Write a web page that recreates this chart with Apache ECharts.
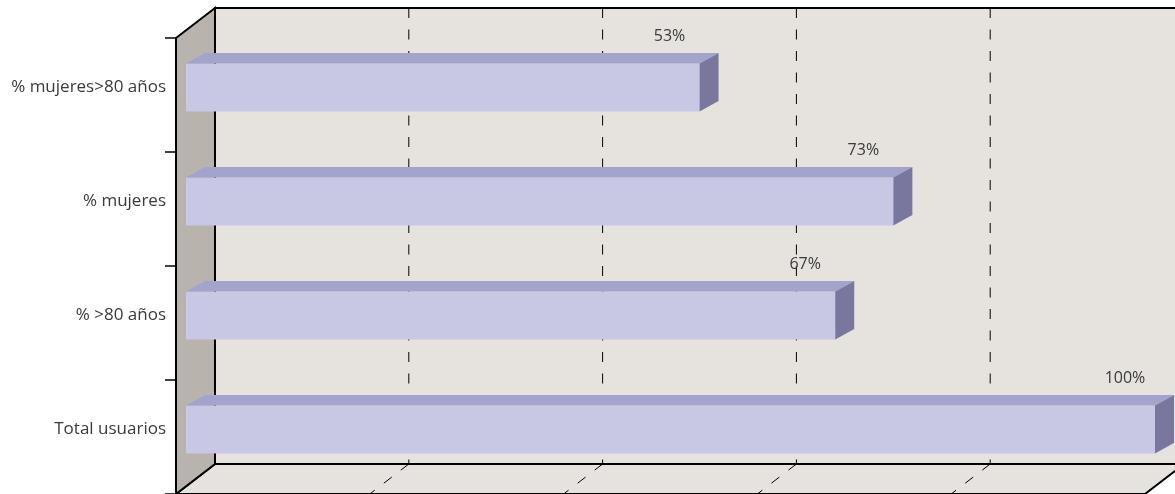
<!DOCTYPE html>
<html>
<head>
<meta charset="utf-8">
<script src="https://cdn.jsdelivr.net/npm/echarts@6/dist/echarts.min.js"></script>
<style>
html,body{margin:0;padding:0;background:#ffffff;}
#chart{width:1175px;height:494px;}
</style>
</head>
<body>
<div id="chart"></div>
<script>
// ---- data ----
const categories = ['% mujeres>80 años', '% mujeres', '% >80 años', 'Total usuarios'];
const values = [53, 73, 67, 100];
const valueLabels = ['53%', '73%', '67%', '100%'];
const gridValues = [20, 40, 60, 80];

// ---- 3D projection helpers (pixel offsets from the bar front plane) ----
const FRONT = [-10, 7.5];   // front edge of the walls/floor
const BACK = [29, -22.5];   // back wall plane
const BAR_DEPTH = [19, -10.5];
const FONT = '"Open Sans", Lato, sans-serif';

const chart = echarts.init(document.getElementById('chart'), null, {renderer: 'canvas'});

function wallsRender(params, api) {
  const n = categories.length;
  const c0 = api.coord([0, 0]);
  const band = api.size([0, 1])[1];
  const yTop = c0[1] - band / 2;
  const yBot = api.coord([0, n - 1])[1] + band / 2;
  const x0 = c0[0];
  const x100 = api.coord([100, 0])[0];
  const P = (x, y, off) => [x + off[0], y + off[1]];
  const children = [];
  const bTL = P(x0, yTop, BACK), bTR = P(x100, yTop, BACK), bBR = P(x100, yBot, BACK), bBL = P(x0, yBot, BACK);
  const fTL = P(x0, yTop, FRONT), fBL = P(x0, yBot, FRONT), fBR = P(x100, yBot, FRONT);
  // back wall
  children.push({type: 'polygon', shape: {points: [bTL, bTR, bBR, bBL]},
    style: {fill: '#E6E3DF', stroke: '#000', lineWidth: 2}});
  // floor
  children.push({type: 'polygon', shape: {points: [bBL, bBR, fBR, fBL]},
    style: {fill: '#E6E3DF', stroke: '#000', lineWidth: 2}});
  // left wall
  children.push({type: 'polygon', shape: {points: [fTL, bTL, bBL, fBL]},
    style: {fill: '#B8B3AC', stroke: '#000', lineWidth: 2}});
  // gridlines on back wall and floor
  gridValues.forEach(v => {
    const x = api.coord([v, 0])[0];
    const t = P(x, yTop, BACK), b = P(x, yBot, BACK), f = P(x, yBot, FRONT);
    children.push({type: 'line', shape: {x1: t[0], y1: t[1], x2: b[0], y2: b[1]},
      style: {stroke: '#000', lineWidth: 1, lineDash: [10, 11.5]}});
    children.push({type: 'line', shape: {x1: b[0], y1: b[1], x2: f[0], y2: f[1]},
      style: {stroke: '#000', lineWidth: 1, lineDash: [10, 11.5]}});
  });
  // category ticks on the front edge of the left wall
  for (let i = 0; i <= n; i++) {
    const y = yTop + i * band;
    const p = P(x0, y, FRONT);
    children.push({type: 'line', shape: {x1: p[0] - 11, y1: p[1], x2: p[0], y2: p[1]},
      style: {stroke: '#000', lineWidth: 1.5}});
  }
  return {type: 'group', children: children};
}

function barRender(params, api) {
  const i = api.value(0);
  const v = api.value(1);
  const band = api.size([0, 1])[1];
  const h = band * 0.42;
  const start = api.coord([0, i]);
  const end = api.coord([v, i]);
  const yT = start[1] - h / 2, yB = start[1] + h / 2;
  const x0 = start[0], x1 = end[0];
  const dx = BAR_DEPTH[0], dy = BAR_DEPTH[1];
  return {type: 'group', children: [
    {type: 'rect', shape: {x: x0, y: yT, width: x1 - x0, height: h}, style: {fill: '#C8C8E4'}},
    {type: 'polygon', shape: {points: [[x0, yT], [x1, yT], [x1 + dx, yT + dy], [x0 + dx, yT + dy]]}, style: {fill: '#A4A3CC'}},
    {type: 'polygon', shape: {points: [[x1, yT], [x1 + dx, yT + dy], [x1 + dx, yB + dy], [x1, yB]]}, style: {fill: '#7A779F'}},
    {type: 'text', style: {x: x1 - 30, y: yT + dy - 17, text: valueLabels[params.dataIndex],
      fill: '#3a3a3a', font: '16px ' + FONT, textAlign: 'center', textVerticalAlign: 'middle'}}
  ]};
}

chart.setOption({
  animation: false,
  backgroundColor: '#ffffff',
  grid: {left: 186, top: 30.5, width: 969, height: 456, containLabel: false},
  xAxis: {type: 'value', min: 0, max: 100, interval: 20, show: false},
  yAxis: {type: 'category', inverse: true, data: categories,
    axisLine: {show: false}, axisTick: {show: false}, splitLine: {show: false},
    axisLabel: {margin: 20, color: '#3a3a3a', fontSize: 17, fontFamily: FONT}},
  series: [
    {type: 'custom', name: 'walls', renderItem: wallsRender, data: [[0, 0]], clip: false, silent: true, z: 1},
    {type: 'custom', name: 'bars', renderItem: barRender, encode: {x: 1, y: 0},
      data: values.map((v, i) => [i, v]), clip: false, z: 2}
  ]
});
</script>
</body>
</html>
